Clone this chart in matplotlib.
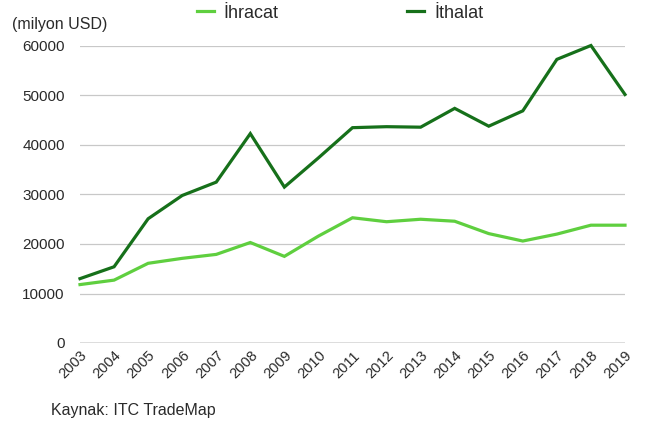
import matplotlib
matplotlib.use("Agg")
import matplotlib.pyplot as plt
from matplotlib.transforms import ScaledTranslation

years = [str(y) for y in range(2003, 2020)]
ihracat = [11800, 12700, 16100, 17100, 17900, 20300, 17500, 21600, 25300, 24500,
           25000, 24600, 22100, 20600, 22000, 23800, 23800]
ithalat = [13000, 15400, 25100, 29800, 32500, 42300, 31500, 37400, 43500, 43700,
           43600, 47400, 43800, 46900, 57300, 60100, 50200]
yticks = [0, 10000, 20000, 30000, 40000, 50000, 60000]

plt.rcParams['font.family'] = ['Liberation Sans', 'DejaVu Sans']
txt = '#2a2a2a'

fig = plt.figure(figsize=(6.59, 4.25), dpi=100)
ax = fig.add_axes([80/659, 1-343/425, 545/659, (343-46)/425])

x = list(range(len(years)))
l1, = ax.plot(x, ihracat, color='#5fcf3f', lw=2.3, clip_on=False, solid_joinstyle='miter', zorder=3)
l2, = ax.plot(x, ithalat, color='#16701a', lw=2.3, clip_on=False, solid_joinstyle='miter', zorder=3)

ax.set_xlim(0, len(years)-1)
ax.set_ylim(0, 60000)
ax.set_yticks(yticks)
ax.set_yticklabels([str(v) for v in yticks], fontsize=11, color=txt)
ax.set_xticks(x)
ax.set_xticklabels(years, rotation=45, ha='right', va='top', rotation_mode='anchor',
                   fontsize=10.5, color=txt)
off = ScaledTranslation(10/100, -5/100, fig.dpi_scale_trans)
for lab in ax.get_xticklabels():
    lab.set_transform(lab.get_transform() + off)
ax.tick_params(axis='both', length=0)
ax.tick_params(axis='y', pad=11)
ax.tick_params(axis='x', pad=4)
for s in ax.spines.values():
    s.set_visible(False)
for v in yticks[1:]:
    ax.axhline(v, color='#c8c8c8', lw=0.9, zorder=1)
ax.axhline(0, color='#555555', lw=1.0, zorder=2)

leg = fig.legend([l1, l2], ['İhracat', 'İthalat'], loc='center', ncol=2,
                 bbox_to_anchor=(340/659, 1-13/425), frameon=False, fontsize=13,
                 handlelength=0.95, handletextpad=0.55, columnspacing=7.1,
                 borderpad=0, borderaxespad=0)
for t in leg.get_texts():
    t.set_color(txt)
fig.text(12/659, 1-25/425, '(milyon USD)', fontsize=11.5, color=txt, va='center')
fig.text(51/659, 1-411/425, 'Kaynak: ITC TradeMap', fontsize=11.5, color=txt, va='center')

fig.savefig('out.png', dpi=100)
